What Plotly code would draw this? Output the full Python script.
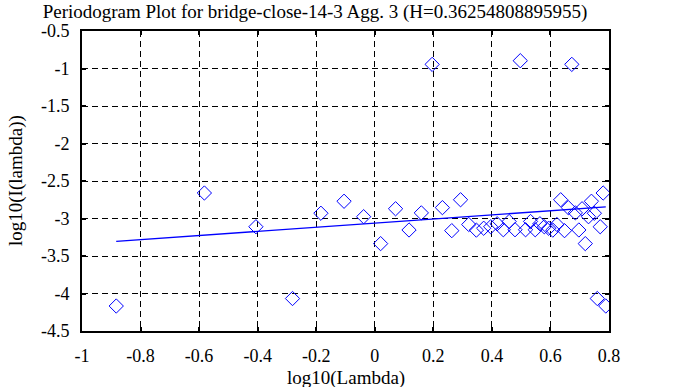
import plotly.graph_objects as go

# log10 of frequency (lambda) and log10 of periodogram I(lambda)
log_lambda = [-0.883, -0.582, -0.406, -0.281, -0.184, -0.105, -0.038, 0.020, 0.071, 0.117,
              0.159, 0.196, 0.231, 0.263, 0.293, 0.321, 0.347, 0.372, 0.396, 0.418,
              0.439, 0.459, 0.479, 0.497, 0.515, 0.532, 0.548, 0.564, 0.579, 0.594,
              0.608, 0.622, 0.635, 0.648, 0.661, 0.673, 0.685, 0.697, 0.708, 0.719,
              0.730, 0.740, 0.750, 0.760, 0.770, 0.780, 0.789]
log_periodogram = [-4.167, -2.66, -3.11, -4.067, -2.93, -2.77, -2.976, -3.335, -2.87, -3.153,
                   -2.925, -0.945, -2.855, -3.162, -2.75, -3.08, -3.155, -3.13, -3.11, -3.07,
                   -3.15, -3.04, -3.15, -0.896, -3.15, -3.04, -3.15, -3.07, -3.11, -3.13,
                   -3.155, -3.08, -2.75, -3.162, -2.855, -0.945, -2.925, -3.153, -2.87, -3.335,
                   -2.976, -2.77, -2.93, -4.067, -3.11, -2.66, -4.167]

# least-squares fit line end points
fit_x = [-0.883, 0.789]
fit_y = [-3.304, -2.845]

x_tick_vals = [-1, -0.8, -0.6, -0.4, -0.2, 0, 0.2, 0.4, 0.6, 0.8]
x_tick_text = ["-1", "-0.8", "-0.6", "-0.4", "-0.2", "0", "0.2", "0.4", "0.6", "0.8"]
y_tick_vals = [-0.5, -1, -1.5, -2, -2.5, -3, -3.5, -4, -4.5]
y_tick_text = ["-0.5", "-1", "-1.5", "-2", "-2.5", "-3", "-3.5", "-4", "-4.5"]

title_text = "Periodogram Plot for bridge-close-14-3 Agg. 3 (H=0.36254808895955)"
x_title = "log10(Lambda)"
y_title = "log10(I(lambda))"

FONT = "Liberation Serif, Times New Roman, serif"

fig = go.Figure()
fig.add_trace(go.Scatter(
    x=log_lambda, y=log_periodogram, mode="markers",
    marker=dict(symbol="diamond-open", size=11, color="#0000ff", line=dict(width=1, color="#0000ff")),
    showlegend=False, hoverinfo="skip"))
fig.add_trace(go.Scatter(
    x=fit_x, y=fit_y, mode="lines",
    line=dict(color="#0000ff", width=1.3),
    showlegend=False, hoverinfo="skip"))

axis_common = dict(
    showline=True, linecolor="black", linewidth=2, mirror="ticks",
    ticks="inside", ticklen=4, tickwidth=2, tickcolor="black",
    showgrid=True, gridcolor="black", gridwidth=1, griddash="6px,4px",
    zeroline=False,
    tickfont=dict(family=FONT, size=18, color="black"),
)

fig.update_xaxes(range=[-1, 0.8], tickvals=x_tick_vals, ticktext=x_tick_text,
                 ticklabelstandoff=7, **axis_common)
fig.update_yaxes(range=[-4.5, -0.5], tickvals=y_tick_vals, ticktext=y_tick_text,
                 ticklabelstandoff=7, **axis_common)

fig.add_annotation(text=x_title, xref="paper", yref="paper", x=0.5, y=-47 / 300,
                   xanchor="center", yanchor="middle", showarrow=False,
                   font=dict(family=FONT, size=19, color="black"))
fig.add_annotation(text=y_title, xref="paper", yref="paper", x=(16 - 82) / 527, y=0.5,
                   xanchor="center", yanchor="middle", showarrow=False, textangle=-90,
                   font=dict(family=FONT, size=19, color="black"))

fig.update_layout(
    width=683, height=387,
    margin=dict(l=82, r=74, t=31, b=56),
    paper_bgcolor="white", plot_bgcolor="white",
    title=dict(text=title_text, x=315 / 683, xref="container", xanchor="center",
               y=1 - 11 / 387, yref="container", yanchor="middle",
               font=dict(family=FONT, size=19, color="black")),
)

fig.write_html("out.html", config={"displayModeBar": False},
               post_script="document.body.style.margin='0';")
